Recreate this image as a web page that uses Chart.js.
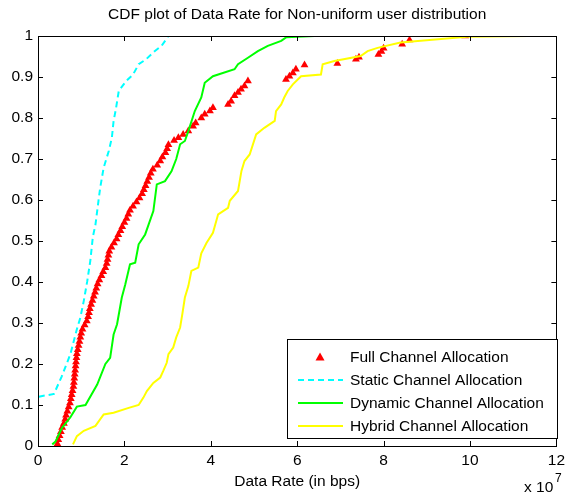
<!DOCTYPE html>
<html><head><meta charset="utf-8">
<script src="https://cdn.jsdelivr.net/npm/chart.js@4/dist/chart.umd.min.js"></script>
<style>html,body{margin:0;padding:0;background:#fff;}</style>
</head><body>
<canvas id="c" width="570" height="495"></canvas>
<script>
const titleText = "CDF plot of Data Rate for Non-uniform user distribution";
const xAxisTitle = "Data Rate (in bps)";
const xExponent = "7";
const xTicks = [0, 2, 4, 6, 8, 10, 12];
const yTicks = [0, 0.1, 0.2, 0.3, 0.4, 0.5, 0.6, 0.7, 0.8, 0.9, 1];
const yTickLabels = ["0", "0.1", "0.2", "0.3", "0.4", "0.5", "0.6", "0.7", "0.8", "0.9", "1"];
const seriesNames = ["Full Channel Allocation", "Static Channel Allocation", "Dynamic Channel Allocation", "Hybrid Channel Allocation"];

// Data rate in units of 1e7 bps, CDF value
const fullX = [0.45,0.47,0.50,0.53,0.56,0.60,0.63,0.65,0.68,0.71,0.74,0.76,0.78,0.80,0.82,0.83,0.84,0.85,0.86,0.87,0.88,0.89,0.90,0.92,0.94,0.96,0.98,1.00,1.03,1.08,1.13,1.16,1.18,1.20,1.23,1.26,1.29,1.32,1.35,1.38,1.42,1.47,1.51,1.56,1.59,1.61,1.63,1.65,1.70,1.76,1.82,1.86,1.91,1.95,2.00,2.05,2.09,2.13,2.20,2.28,2.35,2.41,2.45,2.49,2.53,2.57,2.61,2.66,2.76,2.83,2.88,2.95,2.99,3.02,3.15,3.25,3.36,3.48,3.59,3.65,3.78,3.86,3.98,4.05,4.40,4.47,4.55,4.63,4.70,4.78,4.86,5.74,5.82,5.90,5.97,6.17,6.93,7.36,7.43,7.88,7.95,8.00,8.43,8.60,9.89];
const fullY = [0.005,0.015,0.025,0.035,0.045,0.055,0.065,0.075,0.085,0.095,0.105,0.115,0.125,0.135,0.145,0.155,0.165,0.175,0.185,0.195,0.205,0.215,0.225,0.235,0.245,0.255,0.265,0.275,0.285,0.295,0.305,0.315,0.325,0.335,0.345,0.355,0.365,0.375,0.385,0.395,0.405,0.415,0.425,0.435,0.445,0.455,0.465,0.475,0.485,0.495,0.505,0.515,0.525,0.535,0.545,0.555,0.565,0.575,0.585,0.595,0.605,0.615,0.625,0.635,0.645,0.655,0.665,0.675,0.685,0.695,0.705,0.715,0.725,0.735,0.745,0.752,0.760,0.768,0.780,0.788,0.800,0.809,0.817,0.825,0.833,0.841,0.854,0.862,0.870,0.878,0.890,0.894,0.902,0.910,0.919,0.929,0.933,0.943,0.948,0.955,0.962,0.970,0.980,0.990,1.000];

const staticX = [0, 0, 0.37, 0.55, 0.75, 0.90, 0.98, 1.06, 1.14, 1.21, 1.27, 1.33, 1.40, 1.44, 1.52, 1.64, 1.71, 1.75, 1.80, 1.87, 2.04, 2.20, 2.33, 2.50, 2.70, 2.86, 3.02];
const staticY = [0, 0.12, 0.127, 0.17, 0.224, 0.285, 0.313, 0.354, 0.402, 0.451, 0.51, 0.54, 0.598, 0.63, 0.679, 0.72, 0.752, 0.793, 0.82, 0.866, 0.89, 0.906, 0.931, 0.943, 0.963, 0.976, 1.0];

const dynamicX = [0.33, 0.40, 0.56, 0.75, 0.90, 1.10, 1.37, 1.56, 1.67, 1.75, 1.83, 1.94, 2.02, 2.13, 2.25, 2.33, 2.48, 2.56, 2.67, 2.75, 2.94, 3.09, 3.20, 3.29, 3.40, 3.48, 3.63, 3.78, 3.86, 4.05, 4.55, 4.63, 4.86, 5.09, 5.32, 5.63, 5.75, 6.40];
const dynamicY = [0.004, 0.01, 0.045, 0.07, 0.096, 0.10, 0.15, 0.2, 0.215, 0.272, 0.297, 0.362, 0.394, 0.443, 0.447, 0.492, 0.516, 0.54, 0.573, 0.638, 0.646, 0.67, 0.70, 0.736, 0.744, 0.768, 0.817, 0.85, 0.886, 0.902, 0.919, 0.931, 0.947, 0.963, 0.976, 0.988, 0.997, 1.0];

const hybridX = [0.81, 0.9, 1.06, 1.33, 1.52, 1.75, 2.10, 2.33, 2.44, 2.52, 2.67, 2.83, 2.90, 2.98, 3.02, 3.13, 3.20, 3.29, 3.34, 3.40, 3.48, 3.55, 3.71, 3.78, 3.90, 4.05, 4.17, 4.40, 4.44, 4.63, 4.71, 4.78, 4.90, 5.05, 5.24, 5.48, 5.51, 5.63, 5.70, 5.78, 5.90, 6.09, 6.55, 6.59, 6.86, 7.47, 7.63, 7.86, 8.39, 9.93, 11.35];
const hybridY = [0.004, 0.024, 0.037, 0.049, 0.077, 0.081, 0.093, 0.10, 0.118, 0.134, 0.154, 0.167, 0.183, 0.203, 0.224, 0.24, 0.265, 0.289, 0.321, 0.362, 0.39, 0.427, 0.435, 0.47, 0.495, 0.52, 0.565, 0.581, 0.598, 0.622, 0.671, 0.695, 0.711, 0.76, 0.776, 0.793, 0.817, 0.833, 0.85, 0.866, 0.882, 0.902, 0.906, 0.931, 0.939, 0.951, 0.963, 0.971, 0.984, 0.998, 1.0];

const pts = (xs, ys) => xs.map((x, i) => ({x: x, y: ys[i]}));
const FONT = "'Liberation Sans', Arial, sans-serif";
const FS = 15.5;

const frame = {
  id: 'frame',
  afterDatasetsDraw(chart) {
    const ctx = chart.ctx, a = chart.chartArea;
    const xs = chart.scales.x, ys = chart.scales.y;
    ctx.save();
    ctx.strokeStyle = '#000'; ctx.lineWidth = 1;
    ctx.strokeRect(Math.round(a.left) + 0.5, Math.round(a.top) + 0.5, Math.round(a.right - a.left), Math.round(a.bottom - a.top));
    ctx.beginPath();
    const L = 5;
    xTicks.forEach(v => {
      const px = Math.round(xs.getPixelForValue(v)) + 0.5;
      ctx.moveTo(px, a.bottom); ctx.lineTo(px, a.bottom - L);
      ctx.moveTo(px, a.top); ctx.lineTo(px, a.top + L);
    });
    yTicks.forEach(v => {
      const py = Math.round(ys.getPixelForValue(v)) + 0.5;
      ctx.moveTo(a.left, py); ctx.lineTo(a.left + L, py);
      ctx.moveTo(a.right, py); ctx.lineTo(a.right - L, py);
    });
    ctx.stroke();

    // legend
    const lx = 287, ly = 339, lw = 270, lh = 99;
    ctx.fillStyle = '#fff';
    ctx.fillRect(lx, ly, lw, lh);
    ctx.strokeRect(lx + 0.5, ly + 0.5, lw, lh);
    const rows = [357, 380, 403, 426];
    const dsets = chart.data.datasets;
    ctx.font = FS + "px " + FONT;
    ctx.textBaseline = 'middle'; ctx.textAlign = 'left';
    dsets.forEach((d, i) => {
      const y = rows[i];
      if (d.showLine === false) {
        ctx.fillStyle = d.pointBackgroundColor;
        ctx.beginPath();
        ctx.moveTo(320, y - 4.5); ctx.lineTo(324.5, y + 3.5); ctx.lineTo(315.5, y + 3.5);
        ctx.closePath(); ctx.fill();
      } else {
        ctx.strokeStyle = d.borderColor; ctx.lineWidth = d.borderWidth;
        ctx.setLineDash(d.borderDash || []);
        ctx.beginPath(); ctx.moveTo(298, y); ctx.lineTo(343, y); ctx.stroke();
        ctx.setLineDash([]);
      }
      ctx.fillStyle = '#000';
      ctx.fillText(d.label, 350, y + 1);
    });

    // title
    ctx.fillStyle = '#000';
    ctx.font = FS + "px " + FONT;
    ctx.textAlign = 'center'; ctx.textBaseline = 'middle';
    ctx.fillText(titleText, (a.left + a.right) / 2, 15);
    // exponent
    ctx.textAlign = 'left';
    ctx.fillText("x 10", 524, 488);
    ctx.font = "12px " + FONT;
    ctx.fillText(xExponent, 555, 479);
    ctx.restore();
  }
};

new Chart(document.getElementById('c'), {
  type: 'line',
  data: {
    datasets: [
      { label: seriesNames[0], data: pts(fullX, fullY), showLine: false, pointStyle: 'triangle', pointRadius: 4.5, pointBackgroundColor: '#ff0000', pointBorderColor: '#ff0000', pointBorderWidth: 0, borderColor: '#ff0000', order: 4 },
      { label: seriesNames[1], data: pts(staticX, staticY), borderColor: '#00ffff', borderWidth: 2, borderDash: [6, 4], pointRadius: 0, fill: false, tension: 0, order: 3 },
      { label: seriesNames[2], data: pts(dynamicX, dynamicY), borderColor: '#00ff00', borderWidth: 2, pointRadius: 0, fill: false, tension: 0, order: 2 },
      { label: seriesNames[3], data: pts(hybridX, hybridY), borderColor: '#ffff00', borderWidth: 2, pointRadius: 0, fill: false, tension: 0, order: 1 }
    ]
  },
  options: {
    responsive: false, animation: false, devicePixelRatio: 1,
    layout: { padding: { top: 36, right: 12, left: 0, bottom: 0 } },
    plugins: { legend: { display: false }, title: { display: false }, tooltip: { enabled: false } },
    scales: {
      x: {
        type: 'linear', min: 0, max: 12,
        afterBuildTicks: s => { s.ticks = xTicks.map(v => ({ value: v })); },
        afterFit: s => { s.height = 49; },
        grid: { display: false, drawTicks: false }, border: { display: false },
        ticks: { color: '#000', font: { size: FS, family: FONT }, padding: 5, maxRotation: 0, autoSkip: false, callback: v => String(v) },
        title: { display: true, text: xAxisTitle, color: '#000', font: { size: FS, family: FONT }, padding: { top: 2, bottom: 4 } }
      },
      y: {
        type: 'linear', min: 0, max: 1,
        afterBuildTicks: s => { s.ticks = yTicks.map(v => ({ value: v })); },
        afterFit: s => { s.width = 38; },
        grid: { display: false, drawTicks: false }, border: { display: false },
        ticks: { color: '#000', font: { size: FS, family: FONT }, padding: 5, autoSkip: false, callback: (v, i) => yTickLabels[i] }
      }
    }
  },
  plugins: [frame]
});
</script>
</body></html>
